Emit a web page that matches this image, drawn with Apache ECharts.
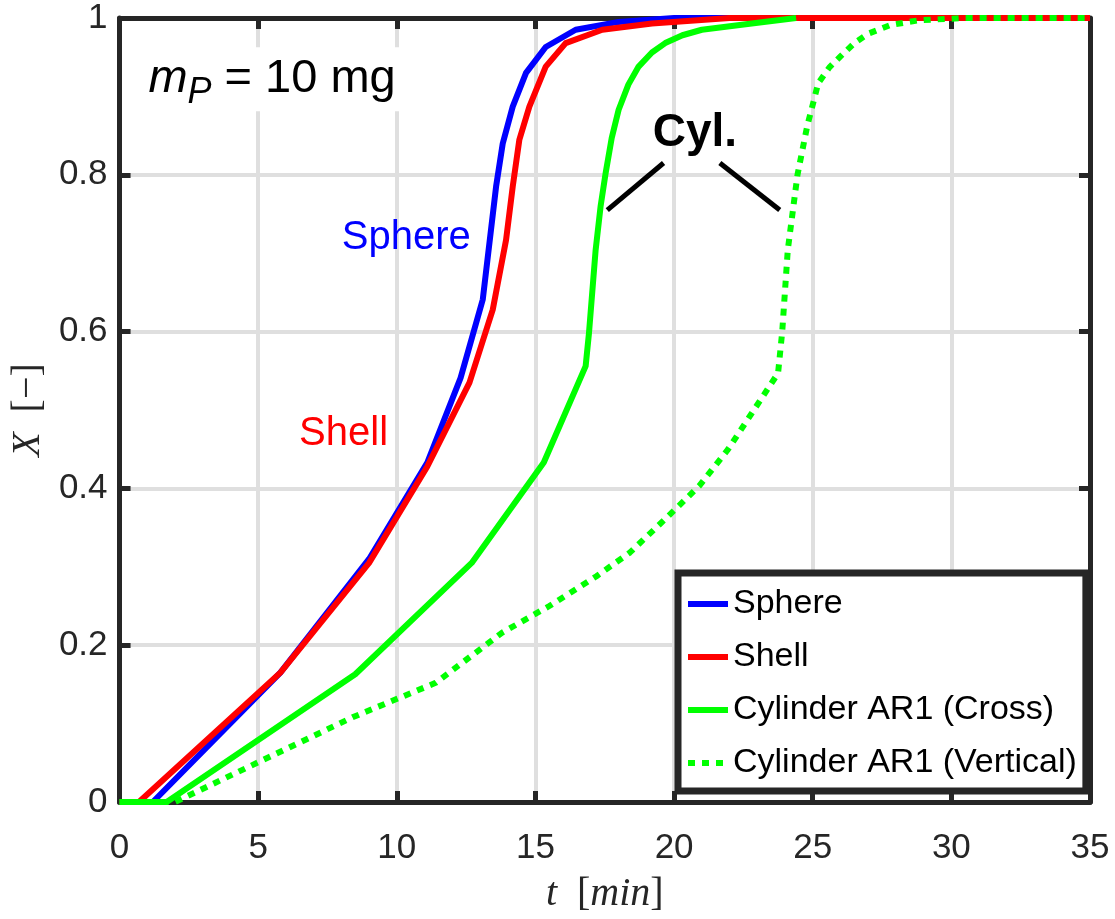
<!DOCTYPE html>
<html>
<head>
<meta charset="utf-8">
<script src="https://cdn.jsdelivr.net/npm/echarts@6/dist/echarts.min.js"></script>
<style>
html,body{margin:0;padding:0;background:#fff;}
#c{width:1115px;height:919px;}
</style>
</head>
<body>
<div id="c"></div>
<script>
// ---- data (t in min, X dimensionless) ----
const sphereT = [0, 1.2, 5.8, 9.0, 11.1, 12.3, 13.1, 13.58, 13.82, 14.18, 14.66, 15.37, 16.45, 18.0, 20.0, 35];
const sphereX = [0, 0, 0.165, 0.31, 0.433, 0.541, 0.641, 0.785, 0.84, 0.887, 0.93, 0.963, 0.985, 0.995, 1, 1];

const shellT = [0, 0.7, 5.8, 9.0, 11.1, 12.62, 13.46, 13.94, 14.18, 14.42, 14.78, 15.37, 16.09, 17.41, 19.2, 22.0, 35];
const shellX = [0, 0, 0.165, 0.305, 0.428, 0.535, 0.628, 0.717, 0.785, 0.845, 0.887, 0.938, 0.968, 0.985, 0.993, 1, 1];

const crossT = [0, 1.7, 8.5, 12.7, 15.3, 16.81, 16.93, 17.17, 17.35, 17.53, 17.75, 18.0, 18.35, 18.72, 19.2, 19.68, 20.3, 21.0, 22.8, 24.4];
const crossX = [0, 0, 0.163, 0.305, 0.433, 0.556, 0.598, 0.704, 0.76, 0.802, 0.847, 0.883, 0.915, 0.938, 0.956, 0.968, 0.978, 0.985, 0.993, 1];

const vertT = [0, 2.0, 8.4, 11.4, 13.8, 15.5, 17.2, 18.4, 19.8, 20.9, 21.95, 23.75, 23.9, 24.1, 24.45, 24.8, 25.2, 25.6, 26.0, 26.5, 27.0, 27.8, 28.8, 30.5, 35];
const vertX = [0, 0, 0.108, 0.152, 0.216, 0.25, 0.288, 0.318, 0.365, 0.403, 0.45, 0.547, 0.6, 0.704, 0.8, 0.862, 0.917, 0.937, 0.951, 0.968, 0.98, 0.991, 0.997, 1, 1];

const seriesNames = ['Sphere', 'Shell', 'Cylinder AR1 (Cross)', 'Cylinder AR1 (Vertical)'];
const xTicks = [0, 5, 10, 15, 20, 25, 30, 35];
const yTicks = [0, 0.2, 0.4, 0.6, 0.8, 1];

// annotation anchors in data coordinates
const cylLeftLine = [[19.62, 0.815], [17.59, 0.755]];
const cylRightLine = [[21.65, 0.815], [23.81, 0.755]];
const labelMp = [5.5, 0.922];
const labelSphere = [10.34, 0.72];
const labelShell = [8.08, 0.469];
const labelCyl = [20.75, 0.853];

const zip = (a, b) => a.map((v, i) => [v, b[i]]);

const AX = '#262626';
const GRID = '#dfdfdf';
const tickFont = {fontFamily: 'Liberation Sans', fontSize: 35, color: AX};

const chart = echarts.init(document.getElementById('c'), null, {renderer: 'canvas'});

const lineSeries = (name, data, color, type) => ({
  name, type: 'line', data, symbol: 'none', clip: false,
  lineStyle: {color, width: 6, type: type || 'solid', cap: 'butt', join: 'round'},
  itemStyle: {color},
  emphasis: {disabled: true}, animation: false
});

const axisCommon = {
  axisLine: {show: true, onZero: false, lineStyle: {color: AX, width: 5}},
  axisTick: {show: true, inside: true, length: 11, lineStyle: {color: AX, width: 5}}
};

chart.setOption({
  animation: false,
  grid: {left: 115, right: 25, top: 18, bottom: 116, containLabel: false},
  xAxis: [Object.assign({
    type: 'value', min: 0, max: 35, interval: 5,
    axisLabel: Object.assign({margin: 29}, tickFont),
    splitLine: {show: true, lineStyle: {color: GRID, width: 4}},
    name: '{it|t}{up|  [}{it|min}{up|]}', nameLocation: 'middle', nameGap: 72,
    nameTextStyle: {rich: {
      it: {fontFamily: 'Liberation Serif', fontStyle: 'italic', fontSize: 40, color: AX},
      up: {fontFamily: 'Liberation Serif', fontSize: 40, color: AX}
    }}
  }, axisCommon), Object.assign({
    type: 'value', min: 0, max: 35, interval: 5, position: 'top',
    axisLabel: {show: false}, splitLine: {show: false}
  }, axisCommon)],
  yAxis: [Object.assign({
    type: 'value', min: 0, max: 1, interval: 0.2,
    axisLabel: Object.assign({margin: 12, formatter: v => String(+v.toFixed(1))}, tickFont),
    splitLine: {show: true, lineStyle: {color: GRID, width: 4}},
    name: '{it|X}{up|  [−]}', nameLocation: 'middle', nameGap: 70, nameRotate: 90,
    nameTextStyle: {rich: {
      it: {fontFamily: 'Liberation Serif', fontStyle: 'italic', fontSize: 40, color: AX},
      up: {fontFamily: 'Liberation Serif', fontSize: 40, color: AX}
    }}
  }, axisCommon), Object.assign({
    type: 'value', min: 0, max: 1, interval: 0.2, position: 'right',
    axisLabel: {show: false}, splitLine: {show: false}
  }, axisCommon)],
  legend: {
    data: seriesNames,
    orient: 'vertical', left: 678, top: 573,
    backgroundColor: '#fff',
    borderColor: AX, borderWidth: 7, borderRadius: 0,
    padding: [13, 9, 10, 7],
    itemWidth: 40, itemHeight: 14, itemGap: 17,
    itemStyle: {opacity: 0, borderWidth: 0},
    lineStyle: {width: 6},
    textStyle: {fontFamily: 'Liberation Sans', fontSize: 34, lineHeight: 36, color: '#000'},
    selectedMode: false
  },
  series: [
    lineSeries(seriesNames[0], zip(sphereT, sphereX), '#0000ff'),
    lineSeries(seriesNames[1], zip(shellT, shellX), '#ff0000'),
    lineSeries(seriesNames[2], zip(crossT, crossX), '#00ff00'),
    lineSeries(seriesNames[3], zip(vertT, vertX), '#00ff00', [7, 7]),
    {
      type: 'scatter', symbolSize: 0, silent: true, clip: false, z: 5,
      itemStyle: {opacity: 1},
      data: [
        {value: labelMp, label: {show: true, position: 'inside', opacity: 1,
          formatter: '{m|m}{p|P}{n| = 10 mg}',
          backgroundColor: '#fff', padding: [0, 8, 0, 8],
          rich: {
            m: {fontFamily: 'Liberation Sans', fontStyle: 'italic', fontSize: 47, color: '#000', lineHeight: 64, verticalAlign: 'middle'},
            p: {fontFamily: 'Liberation Sans', fontStyle: 'italic', fontSize: 36, color: '#000', lineHeight: 36, verticalAlign: 'bottom'},
            n: {fontFamily: 'Liberation Sans', fontSize: 47, color: '#000', lineHeight: 64, verticalAlign: 'middle'}
          }}},
        {value: labelSphere, label: {show: true, position: 'inside', formatter: 'Sphere', opacity: 1,
          fontFamily: 'Liberation Sans', fontSize: 40, color: '#0000ff'}},
        {value: labelShell, label: {show: true, position: 'inside', formatter: 'Shell', opacity: 1,
          fontFamily: 'Liberation Sans', fontSize: 40, color: '#ff0000'}},
        {value: labelCyl, label: {show: true, position: 'inside', formatter: 'Cyl.', opacity: 1,
          fontFamily: 'Liberation Sans', fontWeight: 'bold', fontSize: 46, color: '#000'}}
      ],
      markLine: {
        silent: true, symbol: 'none', animation: false,
        lineStyle: {color: '#000', width: 5, type: 'solid', opacity: 1},
        label: {show: false},
        data: [
          [{coord: cylLeftLine[0]}, {coord: cylLeftLine[1]}],
          [{coord: cylRightLine[0]}, {coord: cylRightLine[1]}]
        ]
      }
    }
  ]
});
</script>
</body>
</html>
